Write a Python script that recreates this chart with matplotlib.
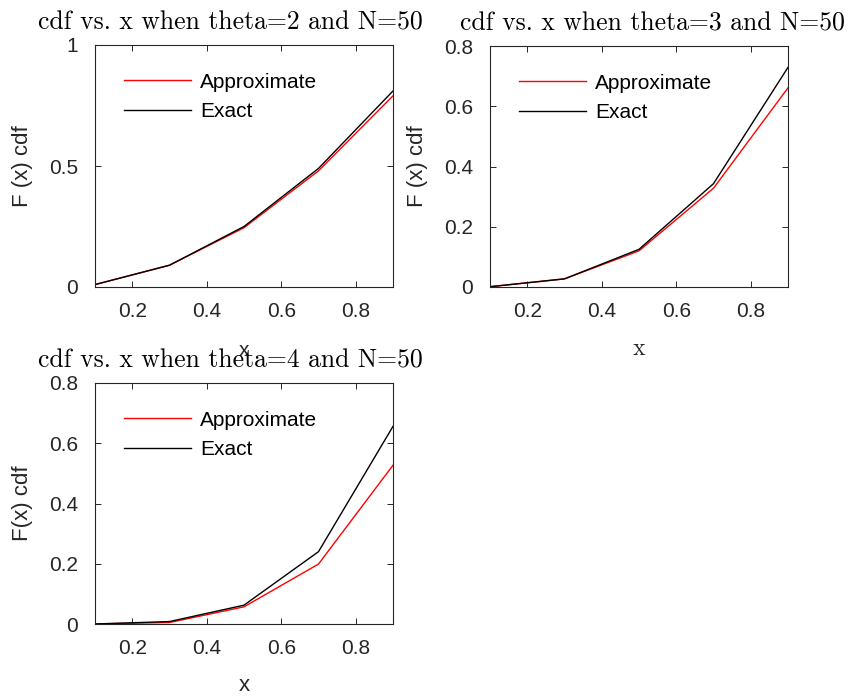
import matplotlib
matplotlib.use("Agg")
import matplotlib.pyplot as plt

plt.rcParams['font.family'] = ['Liberation Sans', 'DejaVu Sans']

x = [0.1, 0.3, 0.5, 0.7, 0.9]

# theta = 2
approx_t2 = [0.01, 0.09, 0.245, 0.48, 0.79]
exact_t2 = [0.01, 0.09, 0.25, 0.49, 0.81]
# theta = 3
approx_t3 = [0.001, 0.027, 0.12, 0.328, 0.661]
exact_t3 = [0.001, 0.027, 0.125, 0.343, 0.729]
# theta = 4
approx_t4 = [0.0001, 0.005, 0.057, 0.199, 0.527]
exact_t4 = [0.0001, 0.0081, 0.0625, 0.2401, 0.6561]

titles = ["cdf vs. x when theta=2 and N=50",
          "cdf vs. x when theta=3 and N=50",
          "cdf vs. x when theta=4 and N=50"]
ylims = [1, 0.8, 0.8]
yticks = [[0, 0.5, 1], [0, 0.2, 0.4, 0.6, 0.8], [0, 0.2, 0.4, 0.6, 0.8]]
ylabels = ["F (x) cdf", "F (x) cdf", "F(x) cdf"]

W, H = 852, 697
fig = plt.figure(figsize=(W / 100, H / 100), dpi=100)

# axes boxes in pixels: left, top, right, bottom
boxes = [(95, 45, 393, 287), (490, 46, 788, 287), (95, 383, 393, 624)]
title_x = [0.455, 0.545, 0.455]
data = [(approx_t2, exact_t2), (approx_t3, exact_t3), (approx_t4, exact_t4)]
tc = '#262626'

for i, (l, t, r, b) in enumerate(boxes):
    ax = fig.add_axes([l / W, 1 - b / H, (r - l) / W, (b - t) / H])
    ap, ex = data[i]
    ax.plot(x, ap, color='red', lw=1.0, label='Approximate')
    ax.plot(x, ex, color='black', lw=1.0, label='Exact')
    ax.set_xlim(0.1, 0.9)
    ax.set_ylim(0, ylims[i])
    ax.set_xticks([0.2, 0.4, 0.6, 0.8])
    ax.set_xticklabels(['0.2', '0.4', '0.6', '0.8'])
    ax.set_yticks(yticks[i])
    ax.set_yticklabels([('%g' % v) for v in yticks[i]])
    ax.tick_params(direction='in', top=True, right=True, length=4, width=0.7,
                   labelsize=15, labelcolor=tc, color=tc)
    ax.tick_params(axis='x', pad=11)
    ax.tick_params(axis='y', pad=12)
    for s in ax.spines.values():
        s.set_linewidth(0.8)
        s.set_color(tc)
    ax.set_title(titles[i], family='cmr10', fontsize=18.5, pad=11, x=title_x[i])
    ax.set_ylabel(ylabels[i], fontsize=16, color=tc, labelpad=12)
    if i == 0:
        ax.set_xlabel('x', fontsize=15, color=tc, labelpad=14)
    elif i == 1:
        ax.set_xlabel('x', family='cmr10', fontsize=17, color=tc, labelpad=12)
    else:
        ax.set_xlabel('x', fontsize=16, color=tc, labelpad=12)
    ax.legend(loc='upper left', frameon=False, fontsize=15, handlelength=3.2,
              handletextpad=0.45, labelspacing=0.5, borderaxespad=0.0,
              bbox_to_anchor=(0.07, 0.92))

fig.savefig('out.png', dpi=100)
